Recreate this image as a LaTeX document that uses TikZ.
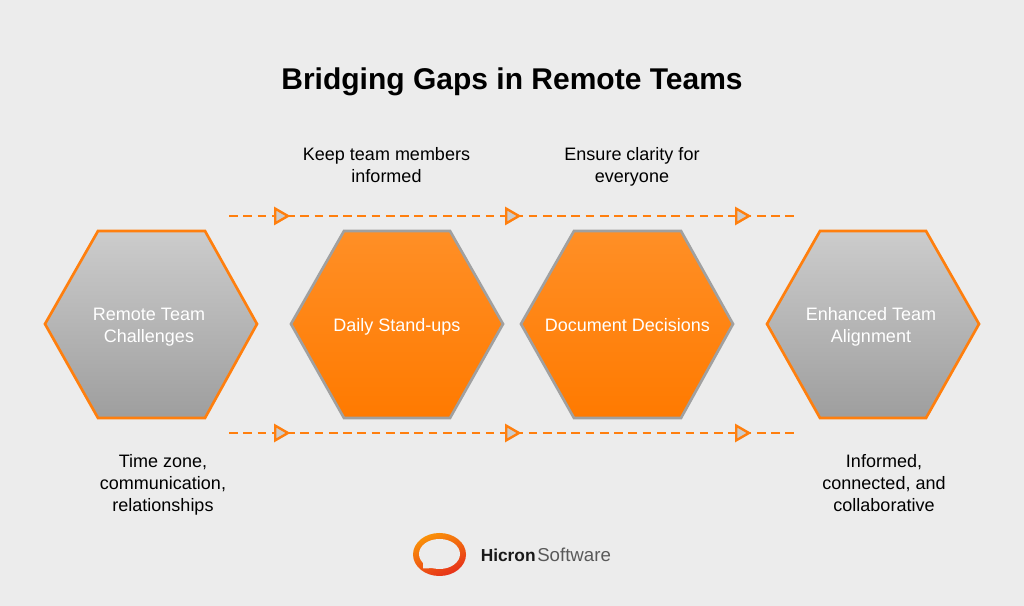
\documentclass[tikz,border=0pt]{standalone}
\usepackage{fontspec}
\setmainfont{Liberation Sans}
\usetikzlibrary{shapes.geometric}
\definecolor{pagegray}{HTML}{ECECEC}
\definecolor{hiorange}{HTML}{FF7F0E}
\definecolor{rimgray}{HTML}{A0A0A0}
\definecolor{hextop}{HTML}{FF8F26}
\definecolor{hexbottom}{HTML}{FF7A00}
\definecolor{logotop}{HTML}{FA9208}
\definecolor{logobottom}{HTML}{E6301A}
\tikzset{
  hexgray/.style={draw=hiorange, line width=2pt, line join=miter, top color=black!20, bottom color=black!38},
  hexorange/.style={draw=rimgray, line width=2pt, line join=miter, top color=hextop, bottom color=hexbottom},
  hextext/.style={text=white, font=\fontsize{13.5}{16.5}\selectfont, align=center},
  caption/.style={text=black, font=\fontsize{13.5}{16.5}\selectfont, align=center},
  gapline/.style={draw=hiorange, line width=1.8pt, dash pattern=on 6.5pt off 4.2pt},
  gaptip/.style={isosceles triangle, isosceles triangle apex angle=60, minimum height=9.5pt, inner sep=0pt,
    draw=hiorange, fill=black!20, line width=1.8pt}
}
\begin{document}
\begin{tikzpicture}[x=7.5pt, y=7.5pt]
  \fill[pagegray] (0,0) rectangle (102.4,60.6);
  \useasboundingbox (0,0) rectangle (102.4,60.6);
  \node[font=\bfseries\fontsize{22.5}{27}\selectfont] (title) at (51.2,52.45) {Bridging Gaps in Remote Teams};
  % the hexagons
  \draw[hexgray] (4.5,28.2) -- (9.8,37.5) -- (20.5,37.5) -- (25.7,28.2) -- (20.5,18.8) -- (9.8,18.8) -- cycle;
  \draw[hexorange] (29.1,28.2) -- (34.4,37.5) -- (45.0,37.5) -- (50.3,28.2) -- (45.0,18.8) -- (34.4,18.8) -- cycle;
  \draw[hexorange] (52.1,28.2) -- (57.4,37.5) -- (68.1,37.5) -- (73.3,28.2) -- (68.1,18.8) -- (57.4,18.8) -- cycle;
  \draw[hexgray] (76.7,28.2) -- (82.0,37.5) -- (92.6,37.5) -- (97.9,28.2) -- (92.6,18.8) -- (82.0,18.8) -- cycle;
  \node[hextext] (challenges) at (14.9,27.9) {Remote Team\\Challenges};
  \node[hextext] (standups) at (39.7,27.9) {Daily Stand-ups};
  \node[hextext] (decisions) at (62.75,28.1) {Document Decisions};
  \node[hextext] (alignment) at (87.1,27.9) {Enhanced Team\\Alignment};
  % the two dashed lines
  \coordinate (upstart) at (22.9,39.0);
  \coordinate (upend) at (79.5,39.0);
  \coordinate (lowstart) at (22.9,17.3);
  \coordinate (lowend) at (79.5,17.3);
  \draw[gapline] (upstart) -- (upend);
  \draw[gapline] (lowstart) -- (lowend);
  \node[gaptip] (uptipa) at (27.95,39.0) {};
  \node[gaptip] (uptipb) at (51.05,39.0) {};
  \node[gaptip] (uptipc) at (74.05,39.0) {};
  \node[gaptip] (lowtipa) at (27.95,17.3) {};
  \node[gaptip] (lowtipb) at (51.05,17.3) {};
  \node[gaptip] (lowtipc) at (74.05,17.3) {};
  % the captions
  \node[caption] (keep) at (38.65,44.1) {Keep team members\\informed};
  \node[caption] (clarity) at (63.2,43.9) {Ensure clarity for\\everyone};
  \node[caption] (timezone) at (16.3,12.1) {Time zone,\\communication,\\relationships};
  \node[caption] (informed) at (88.4,12.3) {Informed,\\connected, and\\collaborative};
  % the logo
  \shade[top color=logotop, bottom color=logobottom, shading angle=25] (43.95,5.15) ellipse [x radius=2.65, y radius=2.15];
  \fill[pagegray] (43.95,5.2) ellipse [x radius=2.05, y radius=1.5];
  \fill[pagegray] (42.3,4.9) -- (42.3,3.75) -- (43.5,3.8) -- cycle;
  \node[font=\fontsize{13}{16}\selectfont\bfseries, text=black!90, anchor=west, inner sep=0pt] (hicron) at (48.05,5.1) {Hicron};
  \node[font=\fontsize{14}{16}\selectfont, text=black!65, anchor=west, inner sep=0pt] (software) at (53.7,5.1) {Software};
\end{tikzpicture}
\end{document}
